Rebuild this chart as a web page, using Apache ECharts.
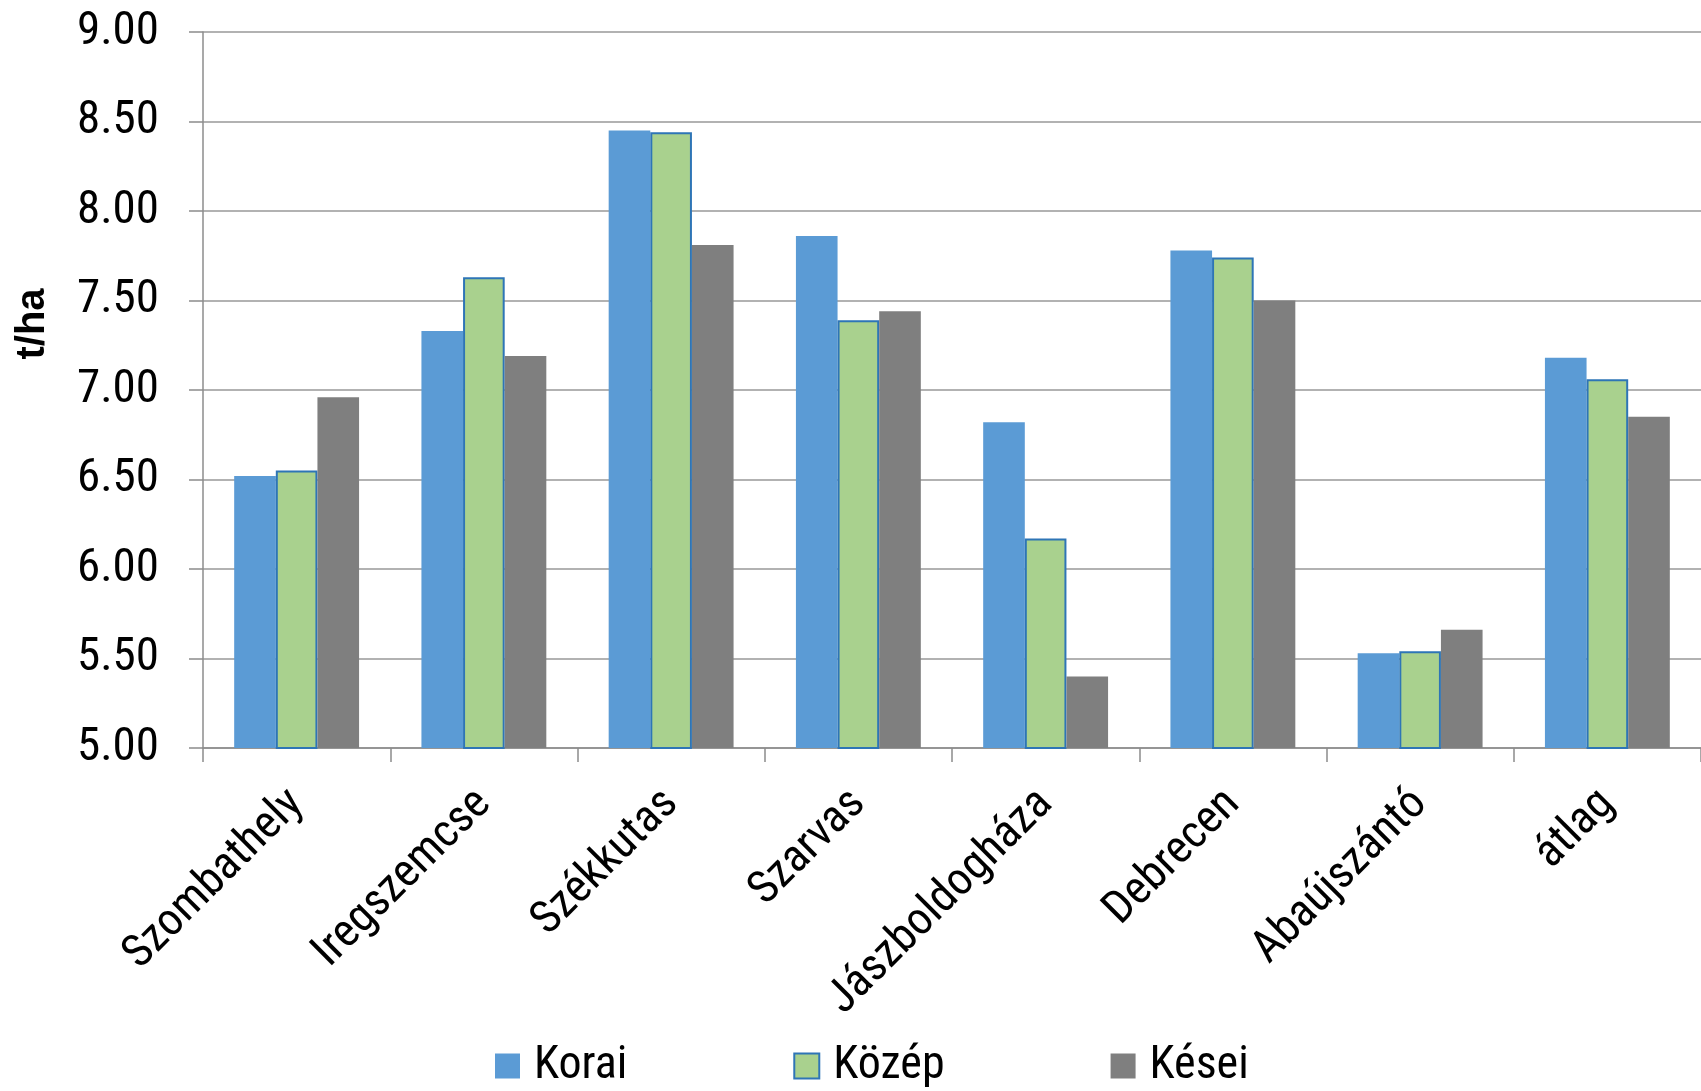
<!DOCTYPE html>
<html>
<head>
<meta charset="utf-8">
<script src="https://cdn.jsdelivr.net/npm/echarts@6/dist/echarts.min.js"></script>
<style>
html,body{margin:0;padding:0;background:#fff;}
#chart{width:1701px;height:1091px;}
</style>
</head>
<body>
<div id="chart"></div>
<script>
const categories = ['Szombathely', 'Iregszemcse', 'Székkutas', 'Szarvas', 'Jászboldogháza', 'Debrecen', 'Abaújszántó', 'átlag'];
const seriesNames = ['Korai', 'Közép', 'Kései'];
const korai = [6.52, 7.33, 8.45, 7.86, 6.82, 7.78, 5.53, 7.18];
const kozep = [6.55, 7.63, 8.44, 7.39, 6.17, 7.74, 5.54, 7.06];
const kesei = [6.96, 7.19, 7.81, 7.44, 5.40, 7.50, 5.66, 6.85];
const yMin = 5, yMax = 9, yInterval = 0.5;
const yAxisName = 't/ha';

const FONT = 'Roboto, "DejaVu Sans Condensed", sans-serif';
const STRETCH = 'condensed';
const chart = echarts.init(document.getElementById('chart'), null, {renderer: 'canvas'});
const axisGray = '#8c8c8c';

chart.setOption({
  animation: false,
  backgroundColor: '#ffffff',
  legend: {
    data: seriesNames,
    left: 495,
    top: 1043,
    padding: 0,
    itemWidth: 25,
    itemHeight: 25,
    itemGap: 166,
    icon: 'rect',
    textStyle: {fontFamily: FONT, fontWeight: STRETCH, fontSize: 46, color: '#000', padding: [0, 0, 0, 9], lineHeight: 46}
  },
  grid: {left: 203, top: 32, width: 1509, height: 716, containLabel: false},
  xAxis: {
    type: 'category',
    data: categories,
    axisLine: {lineStyle: {color: axisGray, width: 1.5}},
    axisTick: {show: true, length: 14, lineStyle: {color: axisGray, width: 1.5}},
    axisLabel: {
      interval: 0,
      rotate: 45,
      margin: 49,
      fontFamily: FONT,
      fontWeight: STRETCH,
      fontSize: 46,
      color: '#000'
    },
    splitLine: {show: false}
  },
  yAxis: {
    type: 'value',
    min: yMin,
    max: yMax,
    interval: yInterval,
    name: yAxisName,
    nameLocation: 'middle',
    nameGap: 150,
    nameTextStyle: {fontFamily: '"Liberation Sans", Arial, sans-serif', fontWeight: 'bold', fontSize: 40, color: '#000', padding: [0, 0, 0, 132]},
    axisLine: {show: true, lineStyle: {color: axisGray, width: 1.5}},
    axisTick: {show: true, length: 14, lineStyle: {color: axisGray, width: 1.5}},
    axisLabel: {
      margin: 44,
      fontFamily: FONT,
      fontWeight: STRETCH,
      fontSize: 47,
      color: '#000',
      formatter: v => v.toFixed(2)
    },
    splitLine: {show: true, lineStyle: {color: '#999999', width: 1.5}}
  },
  series: [
    {name: seriesNames[0], type: 'bar', data: korai, barGap: '0%', barCategoryGap: '33.3%',
     itemStyle: {color: '#5b9bd5'}},
    {name: seriesNames[1], type: 'bar', data: kozep, barGap: '0%', barCategoryGap: '33.3%',
     itemStyle: {color: '#a9d18e', borderColor: '#2e75b6', borderWidth: 2}},
    {name: seriesNames[2], type: 'bar', data: kesei, barGap: '0%', barCategoryGap: '33.3%',
     itemStyle: {color: '#7f7f7f'}}
  ]
});
</script>
</body>
</html>
